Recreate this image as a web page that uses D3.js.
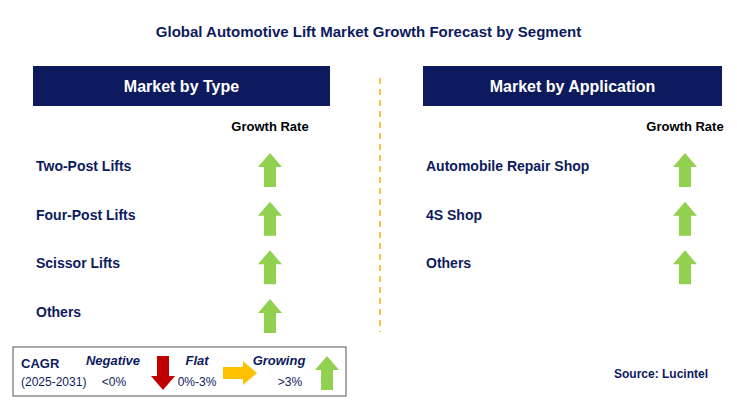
<!DOCTYPE html>
<html><head><meta charset="utf-8">
<script src="https://cdn.jsdelivr.net/npm/d3@7"></script>
<style>body{margin:0;background:#fff}text{font-family:Arial,"Liberation Sans",sans-serif}</style>
</head><body><div id="chart"></div>
<script>
const typeCats=["Two-Post Lifts","Four-Post Lifts","Scissor Lifts","Others"];
const typeTrend=["up","up","up","up"];
const appCats=["Automobile Repair Shop","4S Shop","Others"];
const appTrend=["up","up","up"];

const w=737,h=408,navy="#0d1b5e",green="#92d050";
const svg=d3.select("#chart").append("svg").attr("width",w).attr("height",h);

svg.append("text").attr("x",w/2).attr("y",37).attr("text-anchor","middle")
  .attr("font-size",15).attr("font-weight","bold").attr("fill",navy)
  .text("Global Automotive Lift Market Growth Forecast by Segment");

//row scale shared by both panels
const yScale=d3.scalePoint().domain(d3.range(4)).range([166,312]);

//arrow path centred at 0,0 (up)
function arrowPath(){
  return "M0,-17 L12,-3 L6,-3 L6,17 L-6,17 L-6,-3 L-12,-3 Z";
}
function arrow(g,x,y,dir,color){
  const rot={up:0,down:180,right:90}[dir];
  g.append("path").attr("d",arrowPath())
   .attr("transform","translate("+x+","+y+") rotate("+rot+")")
   .attr("fill",color);
}

function panel(x0,x1,title,cats,trend,arrowX){
  const g=svg.append("g");
  g.append("rect").attr("x",x0).attr("y",66).attr("width",x1-x0).attr("height",40).attr("fill",navy);
  g.append("text").attr("x",(x0+x1)/2).attr("y",92).attr("text-anchor","middle")
   .attr("fill","#fff").attr("font-size",16).attr("font-weight","bold").text(title);
  g.append("text").attr("x",arrowX).attr("y",131).attr("text-anchor","middle")
   .attr("font-size",13).attr("font-weight","bold").attr("fill","#000").text("Growth Rate");
  cats.forEach((c,i)=>{
    g.append("text").attr("x",x0+3).attr("y",yScale(i)+5).attr("font-size",14)
     .attr("font-weight","bold").attr("fill",navy).text(c);
    arrow(g,arrowX,yScale(i)+4,trend[i],green);
  });
}
panel(33,330,"Market by Type",typeCats,typeTrend,270);
panel(423,722,"Market by Application",appCats,appTrend,685);

svg.append("line").attr("x1",380).attr("x2",380).attr("y1",78).attr("y2",332)
  .attr("stroke","#f5b400").attr("stroke-width",1.5).attr("stroke-dasharray","6,5");

//legend
const lg=svg.append("g");
lg.append("rect").attr("x",13).attr("y",347).attr("width",333).attr("height",49)
  .attr("fill","#fff").attr("stroke","#555").attr("stroke-width",1);
lg.append("text").attr("x",21).attr("y",368).attr("font-size",13).attr("font-weight","bold").attr("fill",navy).text("CAGR");
lg.append("text").attr("x",21).attr("y",386).attr("font-size",12).attr("fill",navy).text("(2025-2031)");
[["Negative",113,"<0%",114],["Flat",197,"0%-3%",197],["Growing",279,">3%",290]].forEach(d=>{
  lg.append("text").attr("x",d[1]).attr("y",365).attr("text-anchor","middle").attr("font-size",13)
    .attr("font-weight","bold").attr("font-style","italic").attr("fill",navy).text(d[0]);
  lg.append("text").attr("x",d[3]).attr("y",386).attr("text-anchor","middle").attr("font-size",12)
    .attr("fill",navy).text(d[2]);
});
arrow(lg,163,373,"down","#c00000");
arrow(lg,240,373,"right","#ffc000");
arrow(lg,327,373,"up",green);

svg.append("text").attr("x",708).attr("y",378).attr("text-anchor","end").attr("font-size",12)
  .attr("font-weight","bold").attr("fill",navy).text("Source: Lucintel");
</script></body></html>
